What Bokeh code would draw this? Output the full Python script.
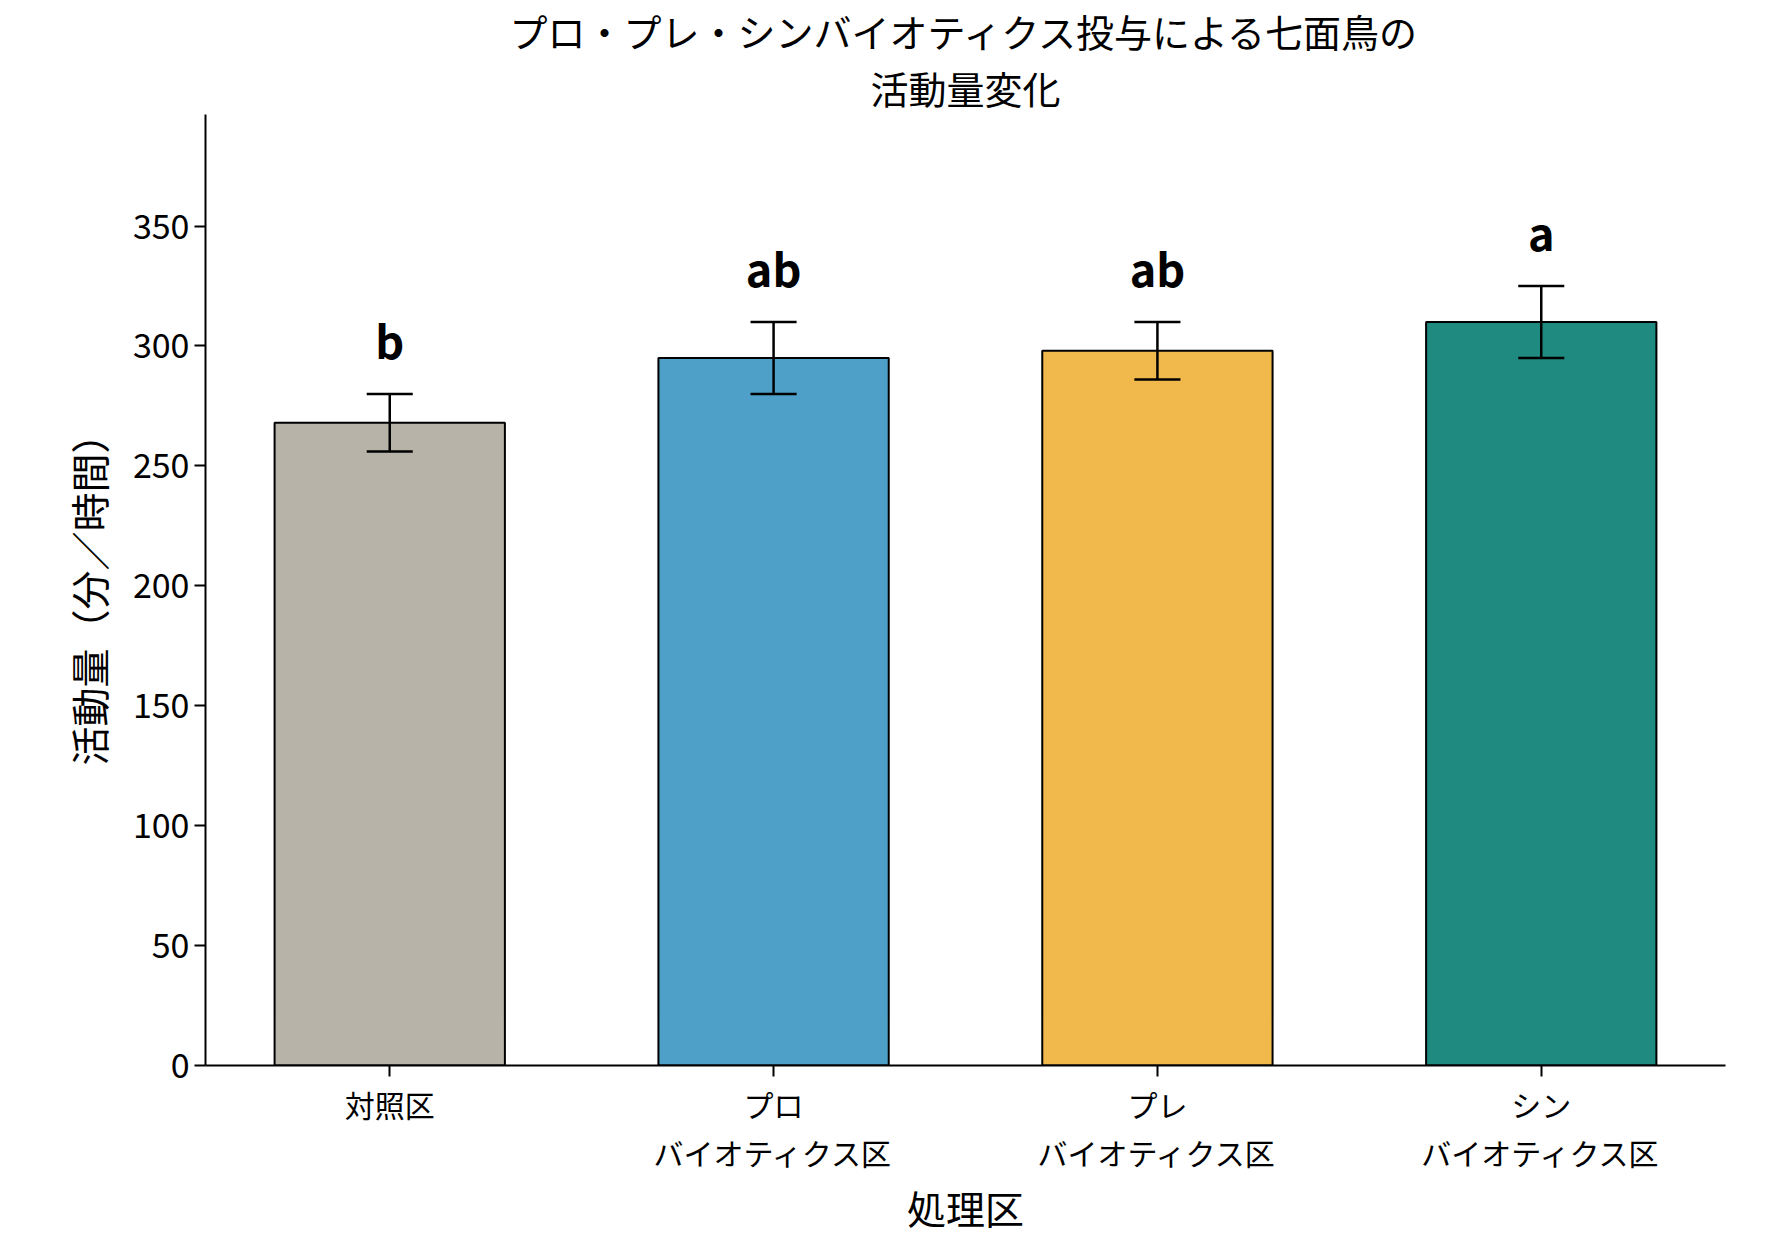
from bokeh.plotting import figure
from bokeh.models import ColumnDataSource, FixedTicker, Range1d, Title
from bokeh.embed import file_html
from bokeh.resources import INLINE
from bokeh.core.properties import value

categories = ["対照区", "プロ\nバイオティクス区", "プレ\nバイオティクス区", "シン\nバイオティクス区"]
means = [268, 295, 298, 310]
errors = [12, 15, 12, 15]
letters = ["b", "ab", "ab", "a"]
colors = ["#b7b3a8", "#4fa0c8", "#f1b84c", "#1f8a80"]

F = "Noto Sans CJK JP"
S = 1774 / 1560
xs = list(range(len(categories)))
lo = [m - e for m, e in zip(means, errors)]
hi = [m + e for m, e in zip(means, errors)]
src = ColumnDataSource(dict(x=xs, top=means, lo=lo, hi=hi, c=colors,
                            xl=[x - 0.06 for x in xs], xr=[x + 0.06 for x in xs],
                            ly=[h + 9 for h in hi], lt=letters))

def px(v):
    return f"{round(v * S)}px"

p = figure(width=1756, height=1240, output_backend="svg", toolbar_location=None,
           x_range=Range1d(-0.48, 3.48), y_range=Range1d(0, 396.5),
           min_border_left=round(180 * S), min_border_right=round(27 * S),
           min_border_top=20, min_border_bottom=round(154 * S))
for t in ["活動量変化", "プロ・プレ・シンバイオティクス投与による七面鳥の"]:
    p.add_layout(Title(text=t, align="center", text_font=F, text_font_size=px(33),
                       text_font_style="normal", text_color="black", standoff=0), "above")
p.vbar(x="x", top="top", width=0.6, fill_color="c", line_color="black", line_width=2, source=src)
p.segment(x0="x", x1="x", y0="lo", y1="hi", source=src, line_color="black", line_width=2.5)
p.segment(x0="xl", x1="xr", y0="lo", y1="lo", source=src, line_color="black", line_width=2.5)
p.segment(x0="xl", x1="xr", y0="hi", y1="hi", source=src, line_color="black", line_width=2.5)
p.text(x="x", y="ly", text="lt", source=src, text_align="center", text_baseline="bottom",
       text_font=value(F), text_font_size=px(40), text_font_style="bold", text_color="black")

p.xaxis.ticker = FixedTicker(ticks=xs)
p.xaxis.major_label_overrides = {i: c for i, c in enumerate(categories)}
p.yaxis.ticker = FixedTicker(ticks=list(range(0, 351, 50)))
for ax in (p.xaxis, p.yaxis):
    ax.axis_line_width = 2
    ax.major_tick_line_width = 2
    ax.major_tick_out = 11
    ax.major_tick_in = 0
    ax.minor_tick_line_color = None
    ax.axis_label_text_font = F
    ax.axis_label_text_font_style = "normal"
    ax.axis_label_text_font_size = px(34)
    ax.axis_label_text_color = "black"
    ax.major_label_text_font = F
    ax.major_label_text_color = "black"
p.xaxis.major_label_text_font_size = px(26)
p.yaxis.major_label_text_font_size = px(30)
p.xaxis.major_label_text_line_height = 1.1
p.xaxis.axis_label = "処理区"
p.yaxis.axis_label = "活動量（分／時間）"
p.xaxis.axis_label_standoff = 2
p.yaxis.axis_label_standoff = 14
p.grid.visible = False
p.outline_line_color = None

open("out.html", "w").write(file_html(p, INLINE))
